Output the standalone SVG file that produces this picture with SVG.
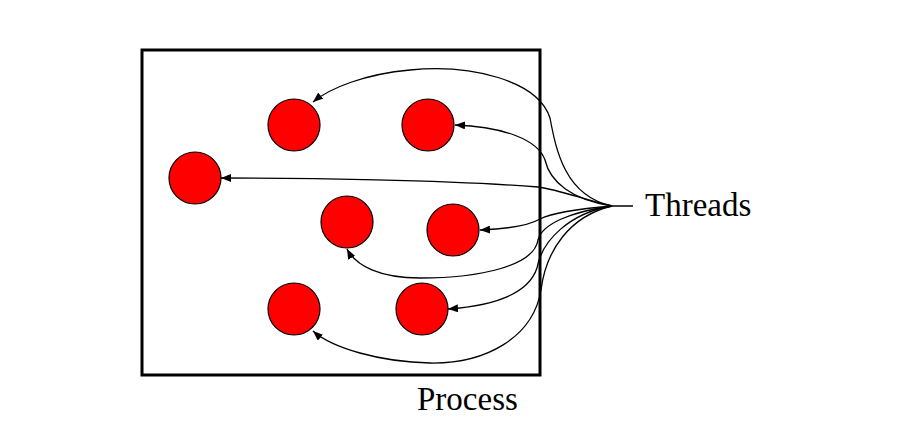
<svg xmlns="http://www.w3.org/2000/svg" width="898" height="443" viewBox="0 0 898 443">
<style>
.node{fill:#ff0000;stroke:#000;stroke-width:1.2}
.conn{fill:none;stroke:#000;stroke-width:1.3;marker-end:url(#ah)}
.lbl{font-family:"Liberation Serif","Times New Roman",serif;font-size:33px;fill:#000}
</style>
<defs>
<marker id="ah" viewBox="0 0 10 8" refX="10" refY="4" markerWidth="10" markerHeight="8" markerUnits="userSpaceOnUse" orient="auto">
<path d="M0,0 L10,4 L0,8 z" fill="#000"/>
</marker>
</defs>
<rect width="898" height="443" fill="#fff"/>
<g id="process">
<rect x="142" y="50" width="398" height="325" fill="none" stroke="#000" stroke-width="3"/>
<text class="lbl" x="417" y="410">Process</text>
</g>
<g id="n1"><circle class="node" cx="294" cy="125" r="26"/></g>
<g id="n2"><circle class="node" cx="428" cy="125" r="26"/></g>
<g id="n3"><circle class="node" cx="195" cy="178" r="26"/></g>
<g id="n4"><circle class="node" cx="347" cy="222" r="26"/></g>
<g id="n5"><circle class="node" cx="453" cy="230" r="26"/></g>
<g id="n6"><circle class="node" cx="294" cy="309" r="26"/></g>
<g id="n7"><circle class="node" cx="422" cy="309" r="26"/></g>
<g id="threads">
<text class="lbl" x="645" y="216">Threads</text>
</g>
<g id="connectors">
<path d="M633,206 L612,206" fill="none" stroke="#000" stroke-width="1.5"/>
<path class="conn" d="M612,206 C565,196 556,150 550,118 C538,80 470,64 410,70 C365,74 330,88 313,102"/>
<path class="conn" d="M612,206 C572,200 550,182 545,160 C538,140 505,127 455,125"/>
<path class="conn" d="M612,206 C585,200 560,190 538,187 C450,180 300,178 221,178"/>
<path class="conn" d="M612,206 C575,209 550,214 540,219 C528,226 505,229 480,230"/>
<path class="conn" d="M612,206 C570,212 542,224 538,240 C534,266 480,278 420,278 C380,278 356,266 347,249"/>
<path class="conn" d="M612,206 C570,213 542,240 537,268 C528,295 490,306 448,309"/>
<path class="conn" d="M612,206 C570,216 546,250 541,290 C533,338 485,364 430,363 C380,362 332,348 313,331"/>
</g>
</svg>
